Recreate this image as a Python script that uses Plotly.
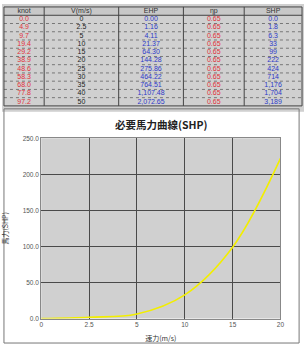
import plotly.graph_objects as go

# ---- data ----
knot = ["0.0", "4.9", "9.7", "19.4", "29.2", "38.9", "48.6", "58.3", "68.0", "77.8", "97.2"]
speed = ["0", "2.5", "5", "10", "15", "20", "25", "30", "35", "40", "50"]
ehp = ["0.00", "1.16", "4.11", "21.37", "64.30", "144.28", "275.86", "464.22", "764.51", "1,107.48", "2,072.65"]
eta = ["0.65"] * 11
shp = ["0.0", "1.8", "6.3", "33", "99", "222", "424", "714", "1,176", "1,704", "3,189"]
headers = ["knot", "V(m/s)", "EHP", "ηp", "SHP"]

chart_v = ["0", "2.5", "5", "10", "15", "20"]
chart_shp = [0.0, 1.78, 6.32, 32.88, 98.95, 221.97]
y_ticks = [0, 50, 100, 150, 200, 250]

W, H = 308, 347
def py(p):
    return 1 - p / H
def px(p):
    return p / W

red = "#e0303a"
blue = "#2d3ac8"
cols = [knot, speed, ehp, eta, shp]
col_colors = [red, "#222222", blue, red, blue]
col_edges = [2, 43, 119, 185, 247, 306]
head_top, head_bot, tab_bot = 3, 11.5, 104
nrows = len(knot)
row_h = (tab_bot - head_bot) / nrows

fig = go.Figure()

# table drawn on an auxiliary axis pair (units = pixels of the table region)
centers = [(col_edges[j] + col_edges[j + 1]) / 2 for j in range(len(headers))]
fig.add_trace(go.Scatter(
    x=centers, y=[(head_top + head_bot) / 2] * len(headers), text=headers,
    mode="text", textposition="middle center",
    textfont=dict(size=7, color="#333333", family="Arial"),
    xaxis="x2", yaxis="y2", hoverinfo="skip", showlegend=False))
for j, col in enumerate(cols):
    fig.add_trace(go.Scatter(
        x=[centers[j]] * len(col), y=[head_bot + (i + 0.5) * row_h for i in range(len(col))],
        text=col, mode="text", textposition="middle center",
        textfont=dict(size=7, color=col_colors[j], family="Arial"),
        xaxis="x2", yaxis="y2", hoverinfo="skip", showlegend=False))

shapes = []
shapes.append(dict(type="rect", xref="x2", yref="y2",
                   x0=col_edges[0], x1=col_edges[-1], y0=head_top, y1=head_bot,
                   fillcolor="#c8c8c8", line=dict(width=0), layer="below"))
for i in range(1, nrows):
    yy = head_bot + i * row_h
    shapes.append(dict(type="line", xref="x2", yref="y2",
                       x0=col_edges[0], x1=col_edges[-1], y0=yy, y1=yy,
                       line=dict(color="#777777", width=1, dash="dot")))
for yy in [head_top, head_bot, tab_bot]:
    shapes.append(dict(type="line", xref="x2", yref="y2",
                       x0=col_edges[0], x1=col_edges[-1], y0=yy, y1=yy,
                       line=dict(color="#444444", width=1)))
for xx in col_edges:
    shapes.append(dict(type="line", xref="x2", yref="y2",
                       x0=xx, x1=xx, y0=head_top, y1=tab_bot,
                       line=dict(color="#444444", width=1)))

# chart box
shapes.append(dict(type="rect", xref="paper", yref="paper",
                   x0=px(2), x1=px(303), y0=py(346), y1=py(107),
                   line=dict(color="#777777", width=1), fillcolor="rgba(0,0,0,0)", layer="below"))
annotations = [dict(text="<b>必要馬力曲線(SHP)</b>", xref="paper", yref="paper",
                    x=px(162), y=py(123), showarrow=False, xanchor="center", yanchor="middle",
                    font=dict(size=10.5, family="Noto Sans CJK JP", color="#222222"))]

fig.add_trace(go.Scatter(
    x=list(range(len(chart_v))), y=chart_shp, mode="lines",
    line=dict(color="#f2ee00", width=1.6, shape="spline", smoothing=1.0),
    hoverinfo="skip", showlegend=False,
))

fig.update_layout(
    width=W, height=H, margin=dict(l=0, r=0, t=0, b=0),
    paper_bgcolor="white", plot_bgcolor="#d0d0d0",
    font=dict(family="Arial", color="#333333"),
    showlegend=False,
    xaxis2=dict(domain=[0, 1], range=[0, W], visible=False, anchor="y2", fixedrange=True),
    yaxis2=dict(domain=[py(110), 1], range=[110, 0], visible=False, anchor="x2", fixedrange=True),
    xaxis=dict(domain=[px(40), px(284)], range=[0, 5],
               tickvals=list(range(len(chart_v))), ticktext=chart_v,
               showgrid=True, gridcolor="#4a4a4a", gridwidth=1.3,
               showline=True, linecolor="#888888", linewidth=1, mirror=True,
               zeroline=False, tickfont=dict(size=6.5, color="#555555"),
               ticks="", ticklen=0,
               title=dict(text="速力(m/s)", font=dict(size=7, family="Noto Sans CJK JP", color="#333333"), standoff=8)),
    yaxis=dict(domain=[py(321), py(137)], range=[0, 250],
               tickvals=y_ticks, ticktext=[f"{v:.1f}" for v in y_ticks],
               showgrid=True, gridcolor="#4a4a4a", gridwidth=1.3,
               showline=True, linecolor="#888888", linewidth=1, mirror=True,
               zeroline=False, tickfont=dict(size=6.5, color="#555555"),
               ticks="", ticklen=0,
               title=dict(text="馬力(SHP)", font=dict(size=7, family="Noto Sans CJK JP", color="#333333"), standoff=14)),
    shapes=shapes,
    annotations=annotations,
)

fig.write_html("out.html")
